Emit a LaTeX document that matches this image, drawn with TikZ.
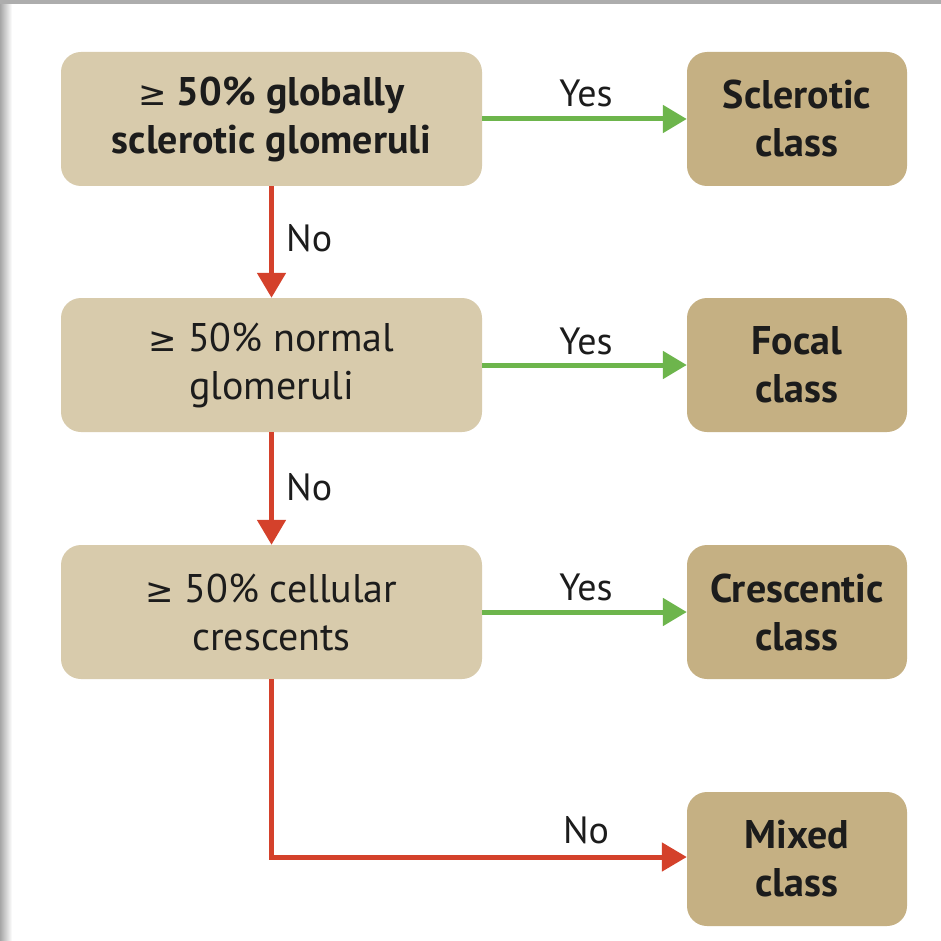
\documentclass[tikz,border=0pt]{standalone}
\usepackage{fontspec}
\setmainfont{PT Sans}
\newfontfamily\symf{DejaVu Sans}
\usetikzlibrary{arrows.meta}
\definecolor{boxlight}{HTML}{D8CBAC}
\definecolor{boxdark}{HTML}{C5B083}
\definecolor{yesgreen}{HTML}{6DB54C}
\definecolor{nored}{HTML}{D4412B}
\definecolor{txt}{HTML}{1C1C1C}
\newcommand{\gesym}{{\symf\mdseries\fontsize{34}{34}\selectfont ≥}}
\begin{document}
\begin{tikzpicture}[x=1pt,y=-1pt,
  qbox/.style={rounded corners=20pt, fill=boxlight, minimum width=421pt, minimum height=134pt, inner sep=0pt, align=center, text=txt, font=\fontsize{40}{48}\selectfont},
  cbox/.style={rounded corners=20pt, fill=boxdark, minimum width=220pt, minimum height=134pt, inner sep=0pt, align=center, text=txt, font=\fontsize{40}{48}\selectfont\bfseries},
  lbl/.style={text=txt, font=\fontsize{38}{40}\selectfont, inner sep=0pt},
  yesarr/.style={draw=yesgreen, line width=5pt, -{Triangle[length=24pt,width=27pt]}},
  noarr/.style={draw=nored, line width=5pt, -{Triangle[length=25pt,width=28pt]}}
]
\useasboundingbox (0,0) rectangle (941,941);
\fill[white] (0,0) rectangle (941,941);
\shade[left color=black!35, right color=white] (0,0) rectangle (12,941);
\fill[black!32] (0,0) rectangle (941,4);

\node[qbox] (q1) at (271.5,119) {\bfseries\gesym{} 50\% globally\\\bfseries sclerotic glomeruli};
\node[qbox] (q2) at (271.5,365) {\gesym{} 50\% normal\\glomeruli};
\node[qbox] (q3) at (271.5,612) {\gesym{} 50\% cellular\\crescents};

\node[cbox] (c1) at (797,119) {Sclerotic\\class};
\node[cbox] (c2) at (797,365) {Focal\\class};
\node[cbox] (c3) at (797,612) {Crescentic\\class};
\node[cbox] (c4) at (797,859) {Mixed\\class};

\coordinate (corner) at (271.5,857);

\draw[yesarr] (q1.east) -- (c1.west);
\draw[yesarr] (q2.east) -- (c2.west);
\draw[yesarr] (q3.east) -- (c3.west);
\draw[noarr] (q1.south) -- (q2.north);
\draw[noarr] (q2.south) -- (q3.north);
\draw[noarr] (q3.south) -- (corner) -- (corner -| c4.west);

\node[lbl] (y1) at (586,93) {Yes};
\node[lbl] (y2) at (586,341) {Yes};
\node[lbl] (y3) at (586,587) {Yes};
\node[lbl, anchor=west] (n1) at (286,238) {No};
\node[lbl, anchor=west] (n2) at (286,487) {No};
\node[lbl] (n3) at (586,830) {No};
\end{tikzpicture}
\end{document}
